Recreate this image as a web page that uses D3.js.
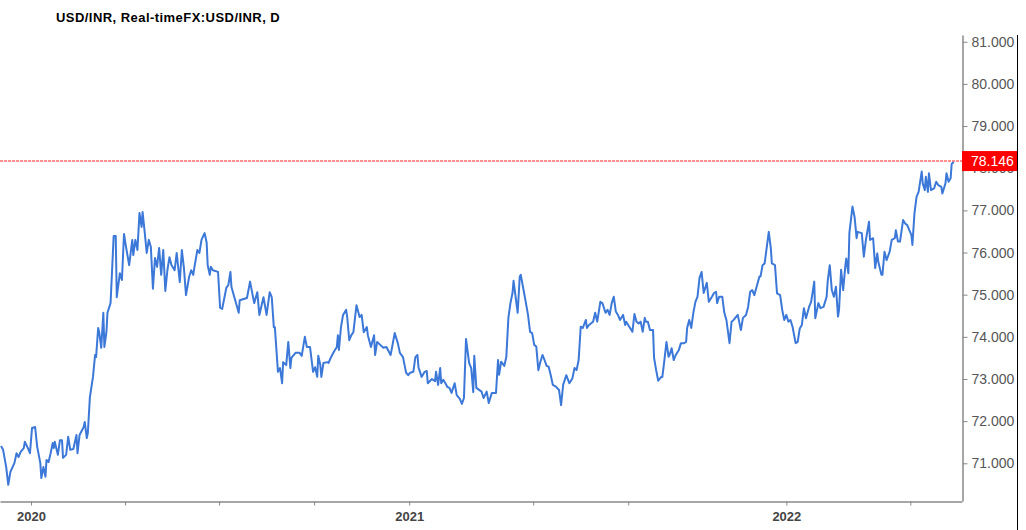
<!DOCTYPE html>
<html><head><meta charset="utf-8">
<script src="https://cdn.jsdelivr.net/npm/d3@7"></script>
<style>
body{margin:0;background:#fff}
svg{display:block}
text{font-family:"Liberation Sans",Arial,Helvetica,sans-serif}
</style>
</head><body>
<svg id="chart" width="1026" height="530"></svg>
<script>
const chartTitle = "USD/INR, Real-timeFX:USD/INR, D";

const dates = [
"2019-12-03","2019-12-05","2019-12-08","2019-12-10","2019-12-12","2019-12-16","2019-12-18","2019-12-20","2019-12-22","2019-12-25","2019-12-26","2019-12-29","2019-12-31",
"2020-01-02","2020-01-05","2020-01-07","2020-01-10","2020-01-11","2020-01-13","2020-01-15","2020-01-16","2020-01-18","2020-01-20","2020-01-22","2020-01-23","2020-01-24","2020-01-27","2020-01-29","2020-01-31",
"2020-02-01","2020-02-04","2020-02-06","2020-02-08","2020-02-11","2020-02-14","2020-02-15","2020-02-17","2020-02-21","2020-02-22","2020-02-24","2020-02-25","2020-02-27",
"2020-03-01","2020-03-03","2020-03-04","2020-03-06","2020-03-07","2020-03-09","2020-03-11","2020-03-12","2020-03-14","2020-03-15","2020-03-18","2020-03-21","2020-03-23","2020-03-24","2020-03-27","2020-03-29","2020-03-31",
"2020-04-02","2020-04-05","2020-04-08","2020-04-09","2020-04-11","2020-04-13","2020-04-15","2020-04-17","2020-04-18","2020-04-20","2020-04-22","2020-04-24","2020-04-26","2020-04-28","2020-04-30",
"2020-05-02","2020-05-04","2020-05-06","2020-05-08","2020-05-10","2020-05-12","2020-05-14","2020-05-16","2020-05-19","2020-05-21","2020-05-24","2020-05-26","2020-05-28","2020-05-30",
"2020-06-02","2020-06-04","2020-06-06","2020-06-07","2020-06-10","2020-06-12","2020-06-14","2020-06-17","2020-06-19","2020-06-20","2020-06-22","2020-06-23","2020-06-25","2020-06-30",
"2020-07-02","2020-07-04","2020-07-08","2020-07-10","2020-07-12","2020-07-13","2020-07-16","2020-07-18","2020-07-20","2020-07-21","2020-07-28","2020-07-31",
"2020-08-04","2020-08-07","2020-08-09","2020-08-13","2020-08-16","2020-08-19","2020-08-21","2020-08-23","2020-08-24","2020-08-27","2020-08-29","2020-08-31",
"2020-09-01","2020-09-04","2020-09-06","2020-09-08","2020-09-09","2020-09-13","2020-09-17","2020-09-19","2020-09-22","2020-09-24","2020-09-27","2020-09-30",
"2020-10-02","2020-10-04","2020-10-05","2020-10-07","2020-10-08","2020-10-10","2020-10-14","2020-10-15","2020-10-17","2020-10-20","2020-10-23","2020-10-24","2020-10-25","2020-10-27","2020-10-29",
"2020-11-01","2020-11-02","2020-11-04","2020-11-06","2020-11-08","2020-11-11","2020-11-14","2020-11-16","2020-11-18","2020-11-21","2020-11-22","2020-11-25","2020-11-28","2020-11-29",
"2020-12-01","2020-12-04","2020-12-07","2020-12-10","2020-12-14","2020-12-15","2020-12-18","2020-12-21","2020-12-23","2020-12-26","2020-12-29","2020-12-31",
"2021-01-02","2021-01-05","2021-01-07","2021-01-09","2021-01-10","2021-01-13","2021-01-16","2021-01-18","2021-01-19","2021-01-23","2021-01-26","2021-01-27","2021-01-29","2021-01-31",
"2021-02-01","2021-02-03","2021-02-05","2021-02-07","2021-02-09","2021-02-11","2021-02-14","2021-02-16","2021-02-19","2021-02-21","2021-02-23","2021-02-25","2021-02-28",
"2021-03-02","2021-03-04","2021-03-05","2021-03-07","2021-03-12","2021-03-14","2021-03-17","2021-03-19","2021-03-22","2021-03-26","2021-03-28","2021-03-29","2021-03-31",
"2021-04-03","2021-04-05","2021-04-07","2021-04-09","2021-04-11","2021-04-12","2021-04-16","2021-04-18","2021-04-19","2021-04-22","2021-04-24","2021-04-26","2021-04-28","2021-04-30",
"2021-05-02","2021-05-04","2021-05-06","2021-05-08","2021-05-10","2021-05-12","2021-05-14","2021-05-16","2021-05-18","2021-05-20","2021-05-23","2021-05-26","2021-05-28","2021-05-30",
"2021-06-02","2021-06-05","2021-06-08","2021-06-10","2021-06-12","2021-06-14","2021-06-16","2021-06-18","2021-06-21","2021-06-22","2021-06-24","2021-06-28","2021-06-30",
"2021-07-02","2021-07-05","2021-07-07","2021-07-10","2021-07-12","2021-07-14","2021-07-16","2021-07-18","2021-07-20","2021-07-22","2021-07-24","2021-07-27","2021-07-29","2021-07-30",
"2021-08-02","2021-08-05","2021-08-07","2021-08-09","2021-08-11","2021-08-13","2021-08-15","2021-08-17","2021-08-18","2021-08-20","2021-08-22","2021-08-25","2021-08-26","2021-08-28","2021-08-30",
"2021-09-02","2021-09-03","2021-09-05","2021-09-07","2021-09-09","2021-09-10","2021-09-12","2021-09-14","2021-09-16","2021-09-19","2021-09-21","2021-09-24","2021-09-26","2021-09-27","2021-09-29",
"2021-10-01","2021-10-03","2021-10-05","2021-10-07","2021-10-09","2021-10-11","2021-10-13","2021-10-16","2021-10-18","2021-10-21","2021-10-23","2021-10-25","2021-10-26","2021-10-28","2021-10-31",
"2021-11-02","2021-11-04","2021-11-07","2021-11-09","2021-11-11","2021-11-15","2021-11-18","2021-11-20","2021-11-23","2021-11-25","2021-11-27","2021-11-29",
"2021-12-01","2021-12-06","2021-12-07","2021-12-09","2021-12-11","2021-12-15","2021-12-17","2021-12-18","2021-12-21","2021-12-23","2021-12-26","2021-12-28","2021-12-30",
"2022-01-01","2022-01-03","2022-01-05","2022-01-07","2022-01-10","2022-01-12","2022-01-14","2022-01-16","2022-01-18","2022-01-20","2022-01-23","2022-01-25","2022-01-28","2022-01-29",
"2022-02-01","2022-02-03","2022-02-06","2022-02-09","2022-02-10","2022-02-12","2022-02-14","2022-02-16","2022-02-18","2022-02-20","2022-02-21","2022-02-23","2022-02-25","2022-02-27","2022-02-28",
"2022-03-02","2022-03-03","2022-03-06","2022-03-08","2022-03-10","2022-03-11","2022-03-15","2022-03-17","2022-03-19","2022-03-22","2022-03-23","2022-03-26","2022-03-28","2022-03-30","2022-03-31",
"2022-04-03","2022-04-04","2022-04-06","2022-04-08","2022-04-11","2022-04-13","2022-04-16","2022-04-17","2022-04-19","2022-04-21","2022-04-24","2022-04-26","2022-04-28","2022-04-30",
"2022-05-02","2022-05-03","2022-05-05","2022-05-07","2022-05-09","2022-05-12","2022-05-13","2022-05-15","2022-05-16","2022-05-18","2022-05-19","2022-05-21","2022-05-24","2022-05-26","2022-05-28","2022-05-31",
"2022-06-01","2022-06-04","2022-06-05","2022-06-07","2022-06-09","2022-06-10","2022-06-12"
];

const values = [
71.41,71.32,70.91,70.49,70.79,71.01,71.24,71.15,71.27,71.36,71.51,71.36,71.24,
71.84,71.86,71.39,71.01,70.65,70.91,70.68,71.08,71.03,71.24,71.48,71.36,71.51,71.20,71.55,71.55,
71.13,71.20,71.63,71.32,71.34,71.67,71.24,71.67,71.86,71.98,71.60,71.72,72.57,
73.05,73.57,73.52,74.21,74.11,73.74,74.57,73.76,74.11,74.57,74.80,76.39,76.39,74.94,75.51,75.35,76.44,
76.13,75.70,76.30,75.94,76.30,76.06,76.94,76.61,76.96,76.49,75.99,76.30,76.13,75.14,75.87,
75.66,76.11,75.47,76.06,75.09,75.58,75.89,75.70,75.58,75.99,75.30,76.06,75.63,74.99,
75.42,75.58,75.47,75.63,76.06,75.99,76.30,76.46,76.23,75.70,75.47,75.66,75.58,75.54,
74.69,74.66,75.16,75.23,75.54,75.18,74.92,74.75,74.57,74.87,74.92,75.31,
74.80,75.06,74.52,74.94,74.52,75.06,74.94,74.23,74.23,73.17,73.26,72.90,
73.40,73.33,73.88,73.26,73.50,73.62,73.62,73.55,74.00,73.76,73.76,73.17,
73.28,73.05,73.55,73.33,73.05,73.38,73.40,73.38,73.50,73.64,73.76,74.04,73.69,74.23,74.52,
74.64,74.47,73.92,74.04,74.11,74.75,74.47,74.52,74.11,74.23,74.04,73.76,74.04,73.57,
73.88,73.81,73.74,73.76,73.57,73.69,74.09,73.85,73.62,73.52,73.15,73.09,
73.15,73.17,73.52,73.57,73.28,73.05,73.17,73.19,72.90,73.00,72.95,73.17,72.86,73.26,
72.90,72.98,72.90,72.81,72.79,72.67,72.90,72.62,72.53,72.41,72.55,73.95,73.38,
73.26,72.69,73.55,72.79,72.70,72.55,72.70,72.43,72.67,72.67,73.45,73.10,73.41,
73.31,73.52,74.45,74.80,75.04,75.33,74.57,75.43,75.47,75.07,74.80,74.52,74.12,74.09,
73.81,73.77,73.21,73.41,73.57,73.45,73.31,73.29,73.09,72.86,72.82,72.74,72.38,72.86,
73.09,72.90,73.02,73.26,73.21,73.45,74.24,74.21,74.40,74.21,74.28,74.36,74.57,
74.36,74.83,74.80,74.57,74.64,74.52,74.80,74.95,74.60,74.52,74.40,74.52,74.28,74.36,
74.24,74.12,74.54,74.36,74.32,74.36,74.12,74.45,74.36,74.36,74.16,74.16,73.50,73.21,72.96,
73.05,73.05,73.45,73.88,73.53,73.57,73.73,73.45,73.57,73.69,73.85,73.85,73.88,74.21,74.40,
74.21,74.57,74.83,74.95,75.40,75.54,75.04,75.28,74.83,74.95,75.04,75.07,74.80,74.95,74.95,
74.57,74.40,73.85,74.36,74.40,74.52,74.16,74.45,74.52,74.71,75.07,75.11,
74.99,75.43,75.43,75.70,75.74,76.49,76.10,75.74,75.70,75.03,74.99,74.64,74.40,
74.52,74.36,74.40,74.24,73.85,73.88,74.20,74.28,74.68,74.44,74.71,74.83,75.31,74.44,
74.80,74.68,74.71,74.95,75.31,75.70,75.11,74.95,75.19,74.48,74.64,75.59,75.11,75.66,75.86,
75.51,76.46,77.09,76.85,76.34,76.49,76.46,75.90,76.30,76.73,76.30,76.34,75.63,75.98,75.78,
75.47,75.47,76.02,75.82,76.02,76.30,76.34,76.53,76.26,76.26,76.77,76.69,76.65,76.53,
76.42,76.18,76.93,77.32,77.44,77.92,77.64,77.48,77.80,77.44,77.88,77.48,77.52,77.68,77.60,77.56,
77.40,77.64,77.88,77.68,77.76,78.10,78.146
];

const yTickValues = [71, 72, 73, 74, 75, 76, 77, 78, 79, 80, 81];
const xTickDates = ["2020-01-01","2020-04-01","2020-07-01","2020-10-01","2021-01-01","2021-05-01","2021-08-01","2022-01-01","2022-05-01"];
const xTickLabels = ["2020","","","","2021","","","2022",""];
const lastPrice = 78.146;
const xDomain = ["2019-12-02","2022-06-20"];
const yDomain = [70.106, 81.16];

const parse = d3.timeParse("%Y-%m-%d");
const data = dates.map((d, i) => ({date: parse(d), value: values[i]}));

const plot = {left: 0, right: 962, top: 35, bottom: 501};
const svg = d3.select("#chart");

const x = d3.scaleTime().domain(xDomain.map(parse)).range([plot.left, plot.right]);
const y = d3.scaleLinear().domain(yDomain).range([plot.bottom, plot.top]);

svg.append("rect").attr("width", 1026).attr("height", 530).attr("fill", "#fff");

// title
svg.append("text").attr("x", 56).attr("y", 22)
  .attr("font-size", 13).attr("font-weight", "bold").attr("fill", "#000")
  .attr("letter-spacing", "0.45px")
  .text(chartTitle);

// clip
svg.append("defs").append("clipPath").attr("id", "clip")
  .append("rect").attr("x", plot.left).attr("y", plot.top)
  .attr("width", plot.right - plot.left).attr("height", plot.bottom - plot.top);

// last price dashed line
const ly = y(lastPrice) - 1;
svg.append("line")
  .attr("x1", plot.left).attr("x2", plot.right)
  .attr("y1", Math.round(ly)).attr("y2", Math.round(ly))
  .attr("stroke", "#ff2020").attr("stroke-width", 1.2).attr("stroke-dasharray", "3,1");

// series line
const line = d3.line().x(d => x(d.date)).y(d => y(d.value));
svg.append("path").datum(data)
  .attr("clip-path", "url(#clip)")
  .attr("d", line)
  .attr("fill", "none")
  .attr("stroke", "#3c78d8")
  .attr("stroke-width", 2)
  .attr("stroke-linejoin", "round");

// y axis (right)
const yAxis = d3.axisRight(y).tickValues(yTickValues)
  .tickFormat(d3.format(".3f")).tickSize(5).tickSizeOuter(0).tickPadding(4);
const gy = svg.append("g").attr("transform", `translate(${plot.right + 0.5},0)`).call(yAxis);
gy.select(".domain").attr("stroke", "#888").attr("stroke-width", 1.5);
gy.selectAll(".tick line").attr("stroke", "#888");
gy.selectAll(".tick text").attr("fill", "#555").attr("font-size", 14)
  .attr("font-family", "'Liberation Sans', Arial, sans-serif");

// x axis (bottom)
const xAxis = d3.axisBottom(x).tickValues(xTickDates.map(parse))
  .tickFormat((d, i) => xTickLabels[i]).tickSize(4).tickSizeOuter(0).tickPadding(6);
const gx = svg.append("g").attr("transform", `translate(0,${plot.bottom + 0.5})`).call(xAxis);
gx.select(".domain").attr("stroke", "#888").attr("stroke-width", 1.5);
gx.selectAll(".tick line").attr("stroke", "#888");
gx.selectAll(".tick text").attr("fill", "#444").attr("font-size", 13).attr("font-weight", "bold")
  .attr("font-family", "'Liberation Sans', Arial, sans-serif");

// last price label (drawn above the axis so it covers the 78.000 tick, as in the reference)
svg.append("rect").attr("x", plot.right).attr("y", ly - 10)
  .attr("width", 56).attr("height", 20).attr("fill", "#ff0000");
svg.append("text").attr("x", plot.right + 9).attr("y", ly).attr("dy", "0.35em")
  .attr("font-size", 14).attr("fill", "#fff")
  .text(d3.format(".3f")(lastPrice));

// right border
svg.append("line").attr("x1", 1017.5).attr("x2", 1017.5).attr("y1", plot.top).attr("y2", 530)
  .attr("stroke", "#000").attr("stroke-width", 1);
</script>
</body></html>
